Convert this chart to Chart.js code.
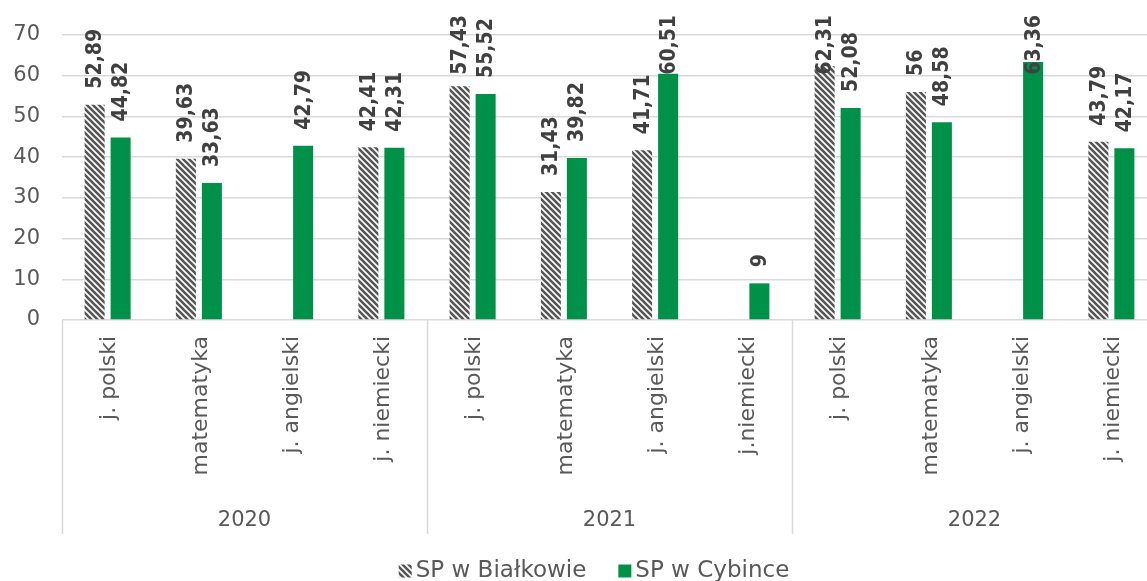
<!DOCTYPE html>
<html>
<head>
<meta charset="utf-8">
<script src="https://cdn.jsdelivr.net/npm/chart.js@4/dist/chart.umd.min.js"></script>
<style>
  html, body { margin: 0; padding: 0; overflow: hidden; background: #fff; }
</style>
</head>
<body>
<canvas id="wyniki" width="1158" height="581"></canvas>
<script>
const years = ["2020", "2021", "2022"];
const subjects = [
  "j. polski", "matematyka", "j. angielski", "j. niemiecki",
  "j. polski", "matematyka", "j. angielski", "j.niemiecki",
  "j. polski", "matematyka", "j. angielski", "j. niemiecki",
];
const spBialkow = [52.89, 39.63, null, 42.41, 57.43, 31.43, 41.71, null, 62.31, 56, null, 43.79];
const spCybinka = [44.82, 33.63, 42.79, 42.31, 55.52, 39.82, 60.51, 9, 52.08, 48.58, 63.36, 42.17];
const seriesNames = ["SP w Białkowie", "SP w Cybince"];
const yMin = 0, yMax = 70, yStep = 10;

const canvas = document.getElementById("wyniki");
const GREEN = "#009148";
const GREY_TEXT = "#595959";
const GRID = "#d9d9d9";

// diagonal stripes like the excel "wide downward diagonal" fill
const hatch = (() => {
  const c = document.createElement("canvas");
  c.width = 6;
  c.height = 6;
  const g = c.getContext("2d");
  g.fillStyle = "#fff";
  g.fillRect(0, 0, 6, 6);
  g.strokeStyle = "#555";
  g.lineWidth = 2.6;
  g.beginPath();
  g.moveTo(-3, -3); g.lineTo(9, 9);
  g.moveTo(-3, 3); g.lineTo(3, 9);
  g.moveTo(3, -3); g.lineTo(9, 3);
  g.stroke();
  return canvas.getContext("2d").createPattern(c, "repeat");
})();

const fmt = (v) => String(v).replace(".", ",");

const overlay = {
  id: "overlay",
  afterDatasetsDraw(chart) {
    const ctx = chart.ctx;
    ctx.save();
    ctx.font = "bold 21px 'DejaVu Sans Condensed', 'DejaVu Sans'";
    ctx.fillStyle = "#404040";
    ctx.textAlign = "left";
    ctx.textBaseline = "middle";
    chart.data.datasets.forEach((ds, di) => {
      chart.getDatasetMeta(di).data.forEach((bar, i) => {
        const v = ds.data[i];
        if (v == null) return;
        const txt = fmt(v);
        const w = ctx.measureText(txt).width;
        const y = Math.max(bar.y - 16, 15 + w);
        ctx.save();
        ctx.translate(bar.x, y);
        ctx.rotate(-Math.PI / 2);
        ctx.fillText(txt, 0, 1);
        ctx.restore();
      });
    });
    ctx.restore();
  },
  afterDraw(chart) {
    const ctx = chart.ctx;
    const area = chart.chartArea;
    const xs = chart.scales.x;
    ctx.save();

    // category labels (vertical)
    ctx.font = "22px 'DejaVu Sans'";
    ctx.fillStyle = GREY_TEXT;
    ctx.textAlign = "right";
    ctx.textBaseline = "middle";
    subjects.forEach((s, i) => {
      ctx.save();
      ctx.translate(xs.getPixelForValue(i) + 2, area.bottom + 16);
      ctx.rotate(-Math.PI / 2);
      ctx.fillText(s, 0, 0);
      ctx.restore();
    });

    // group separators + year labels
    const bounds = [];
    for (let g = 0; g <= years.length; g++) {
      if (g === 0) bounds.push(area.left);
      else if (g === years.length) bounds.push(area.right);
      else bounds.push((xs.getPixelForValue(g * 4 - 1) + xs.getPixelForValue(g * 4)) / 2);
    }
    ctx.strokeStyle = GRID;
    ctx.lineWidth = 1.5;
    bounds.slice(0, years.length).forEach((bx) => {
      const px = Math.round(bx) + 0.5;
      ctx.beginPath();
      ctx.moveTo(px, area.bottom);
      ctx.lineTo(px, 534);
      ctx.stroke();
    });
    ctx.font = "21px 'DejaVu Sans'";
    ctx.textAlign = "center";
    years.forEach((y, g) => {
      ctx.fillText(y, (bounds[g] + bounds[g + 1]) / 2, 521);
    });

    // legend
    const fills = [hatch, GREEN];
    ctx.font = "23px 'DejaVu Sans'";
    ctx.textAlign = "left";
    const box = 13, gapBox = 4, gapItem = 32;
    const widths = seriesNames.map((n) => box + gapBox + ctx.measureText(n).width);
    const total = widths.reduce((a, b) => a + b, 0) + gapItem;
    let lx = 594 - total / 2;
    const ly = 571;
    seriesNames.forEach((n, i) => {
      ctx.fillStyle = fills[i];
      ctx.fillRect(lx, ly - box / 2, box, box);
      ctx.fillStyle = GREY_TEXT;
      ctx.fillText(n, lx + box + gapBox, ly);
      lx += widths[i] + gapItem;
    });
    ctx.restore();
  },
};

new Chart(canvas.getContext("2d"), {
  type: "bar",
  data: {
    labels: subjects,
    datasets: [
      {
        label: seriesNames[0],
        data: spBialkow,
        backgroundColor: hatch,
        borderWidth: 0,
        categoryPercentage: 0.57,
        barPercentage: 0.77,
      },
      {
        label: seriesNames[1],
        data: spCybinka,
        backgroundColor: GREEN,
        borderWidth: 0,
        categoryPercentage: 0.57,
        barPercentage: 0.77,
      },
    ],
  },
  options: {
    responsive: false,
    animation: false,
    layout: { padding: { top: 35, right: 1, left: 0, bottom: 0 } },
    plugins: {
      legend: { display: false },
      tooltip: { enabled: false },
    },
    scales: {
      x: {
        ticks: { display: false },
        grid: { display: false },
        border: { display: false },
        afterFit: (s) => { s.height = 261; },
      },
      y: {
        min: yMin,
        max: yMax,
        ticks: {
          stepSize: yStep,
          color: GREY_TEXT,
          font: { family: "DejaVu Sans", size: 21 },
          padding: 22,
        },
        grid: { color: GRID, lineWidth: 1.5, drawTicks: false },
        border: { display: false },
        afterFit: (s) => { s.width = 62; },
      },
    },
  },
  plugins: [overlay],
});
</script>
</body>
</html>
